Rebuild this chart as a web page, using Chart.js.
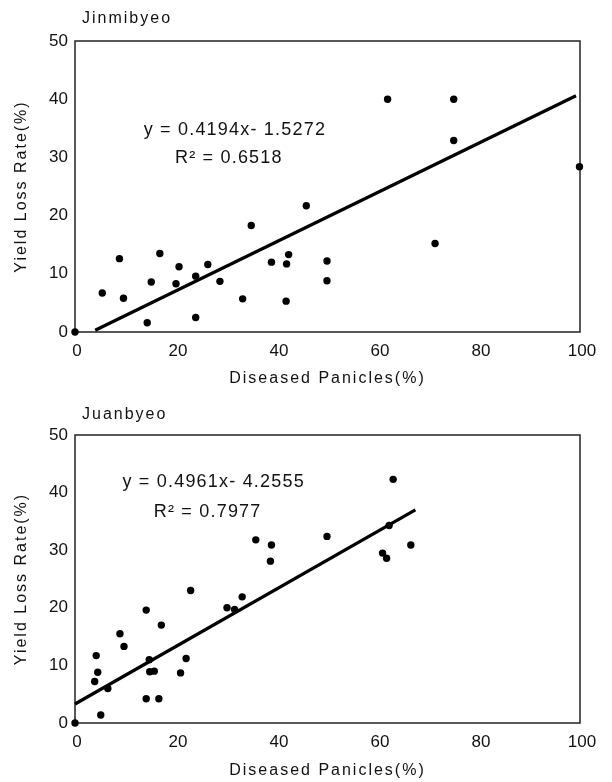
<!DOCTYPE html>
<html>
<head>
<meta charset="utf-8">
<script src="https://cdn.jsdelivr.net/npm/chart.js@4"></script>
<style>
    html, body { margin: 0; padding: 0; background: #fff; }
    .panel { position: relative; width: 612px; }
    #topPanel { height: 390px; }
    #bottomPanel { height: 392px; }
</style>
</head>
<body>
<div class="panel" id="topPanel"><canvas id="jinChart"></canvas></div>
<div class="panel" id="bottomPanel"><canvas id="juaChart"></canvas></div>
<script>
// Tick labels
const xTickValues = [0, 20, 40, 60, 80, 100];
const yTickValues = [0, 10, 20, 30, 40, 50];

// Jinmibyeo: diseased panicles (%) vs yield loss rate (%)
const jinDiseased = [0, 5.4, 8.8, 9.6, 14.3, 15.1, 16.8, 20.0, 20.6, 23.9, 23.9, 26.3, 28.7, 33.2,
    34.9, 38.9, 41.8, 41.9, 42.3, 45.8, 49.9, 49.9, 61.9, 71.3, 75.0, 75.0, 99.9];
const jinLoss = [0, 6.7, 12.6, 5.8, 1.6, 8.6, 13.5, 8.3, 11.2, 9.6, 2.5, 11.6, 8.7, 5.7,
    18.3, 12.0, 5.3, 11.7, 13.3, 21.7, 12.2, 8.8, 40.0, 15.2, 40.0, 32.9, 28.4];
const jinTrendX = [4.0, 99.2];
const jinTrendY = [0.3, 40.6];
const jinEquation = 'y = 0.4194x- 1.5272';
const jinR2 = 'R\u00B2 = 0.6518';

// Juanbyeo
const juaDiseased = [0, 3.9, 4.2, 4.5, 5.1, 6.5, 8.9, 9.7, 14.1, 14.1, 14.7, 14.8, 15.7, 16.6, 17.1,
    20.9, 22.0, 22.9, 30.1, 31.6, 33.1, 35.8, 38.7, 38.9, 49.9, 60.9, 61.7, 62.2, 63.0, 66.5];
const juaLoss = [0, 7.2, 11.7, 8.8, 1.4, 6.0, 15.5, 13.3, 19.6, 4.2, 11.0, 8.9, 9.0, 4.2, 17.0,
    8.7, 11.2, 23.0, 20.0, 19.7, 21.9, 31.8, 28.1, 30.9, 32.4, 29.5, 28.6, 34.3, 42.3, 30.9];
const juaTrendX = [0, 67.4];
const juaTrendY = [3.3, 37.0];
const juaEquation = 'y = 0.4961x- 4.2555';
const juaR2 = 'R\u00B2 = 0.7977';

const FONT = '"Liberation Sans", Arial, Helvetica, sans-serif';
const INK = '#111';

const toPoints = (xs, ys) => xs.map((x, i) => ({ x: x, y: ys[i] }));

// Draws the plot frame, the panel name and the regression text
const panelText = {
    id: 'panelText',
    beforeDraw(chart) {
        // axis titles are drawn before the datasets, tick labels after (ticks.z = 1)
        chart.ctx.letterSpacing = '2px';
    },
    beforeDatasetsDraw(chart) {
        const { ctx, chartArea: a } = chart;
        ctx.save();
        ctx.strokeStyle = '#222';
        ctx.lineWidth = 1.5;
        ctx.strokeRect(a.left, a.top, a.right - a.left, a.bottom - a.top);
        ctx.restore();
    },
    afterDatasetsDraw(chart) {
        chart.ctx.letterSpacing = '0px';
    },
    afterDraw(chart, args, opts) {
        const { ctx } = chart;
        const { x, y } = chart.scales;
        ctx.save();
        ctx.fillStyle = INK;
        ctx.textBaseline = 'middle';
        ctx.textAlign = 'left';
        ctx.letterSpacing = '2px';
        ctx.font = '16px ' + FONT;
        ctx.fillText(opts.title, opts.titleX, opts.titleY);
        ctx.letterSpacing = '1.2px';
        ctx.font = '18px ' + FONT;
        opts.notes.forEach(n => {
            ctx.fillText(n.text, x.getPixelForValue(n.x), y.getPixelForValue(n.y));
        });
        ctx.restore();
    }
};

function makePanel(canvasId, xs, ys, trendX, trendY, text) {
    return new Chart(document.getElementById(canvasId), {
        type: 'scatter',
        data: {
            datasets: [{
                data: toPoints(xs, ys),
                backgroundColor: '#000',
                borderWidth: 0,
                pointRadius: 3.7,
                clip: false
            }, {
                data: toPoints(trendX, trendY),
                showLine: true,
                borderColor: '#000',
                borderWidth: 3.2,
                pointRadius: 0,
                clip: false
            }]
        },
        options: {
            responsive: true,
            maintainAspectRatio: false,
            animation: false,
            events: [],
            layout: { padding: { top: text.top, right: 32, left: 0, bottom: 0 } },
            plugins: {
                legend: { display: false },
                tooltip: { enabled: false },
                panelText: text
            },
            scales: {
                x: {
                    type: 'linear',
                    min: 0,
                    max: 100,
                    afterBuildTicks: s => { s.ticks = xTickValues.map(v => ({ value: v })); },
                    afterFit: s => { s.height = text.xHeight; },
                    grid: { display: false, drawTicks: false },
                    border: { display: false },
                    ticks: { z: 1, padding: 9, labelOffset: 2, color: INK, font: { family: FONT, size: 17 } },
                    title: {
                        display: true,
                        text: 'Diseased Panicles(%)',
                        color: INK,
                        padding: { top: 0, bottom: 2 },
                        font: { family: FONT, size: 16 }
                    }
                },
                y: {
                    type: 'linear',
                    min: 0,
                    max: 50,
                    afterBuildTicks: s => { s.ticks = yTickValues.map(v => ({ value: v })); },
                    afterFit: s => { s.width = 75; },
                    grid: { display: false, drawTicks: false },
                    border: { display: false },
                    ticks: { z: 1, padding: 7, color: INK, font: { family: FONT, size: 17 } },
                    title: {
                        display: true,
                        text: 'Yield Loss Rate(%)',
                        color: INK,
                        padding: { top: 12, bottom: 0 },
                        font: { family: FONT, size: 16 }
                    }
                }
            }
        },
        plugins: [panelText]
    });
}

makePanel('jinChart', jinDiseased, jinLoss, jinTrendX, jinTrendY, {
    top: 41,
    xHeight: 58,
    title: 'Jinmibyeo',
    titleX: 82,
    titleY: 19,
    notes: [
        { text: jinEquation, x: 13.6, y: 34.7 },
        { text: jinR2, x: 19.8, y: 29.9 }
    ]
});

makePanel('juaChart', juaDiseased, juaLoss, juaTrendX, juaTrendY, {
    top: 45,
    xHeight: 59,
    title: 'Juanbyeo',
    titleX: 82,
    titleY: 25,
    notes: [
        { text: juaEquation, x: 9.4, y: 41.9 },
        { text: juaR2, x: 15.6, y: 36.7 }
    ]
});
</script>
</body>
</html>
